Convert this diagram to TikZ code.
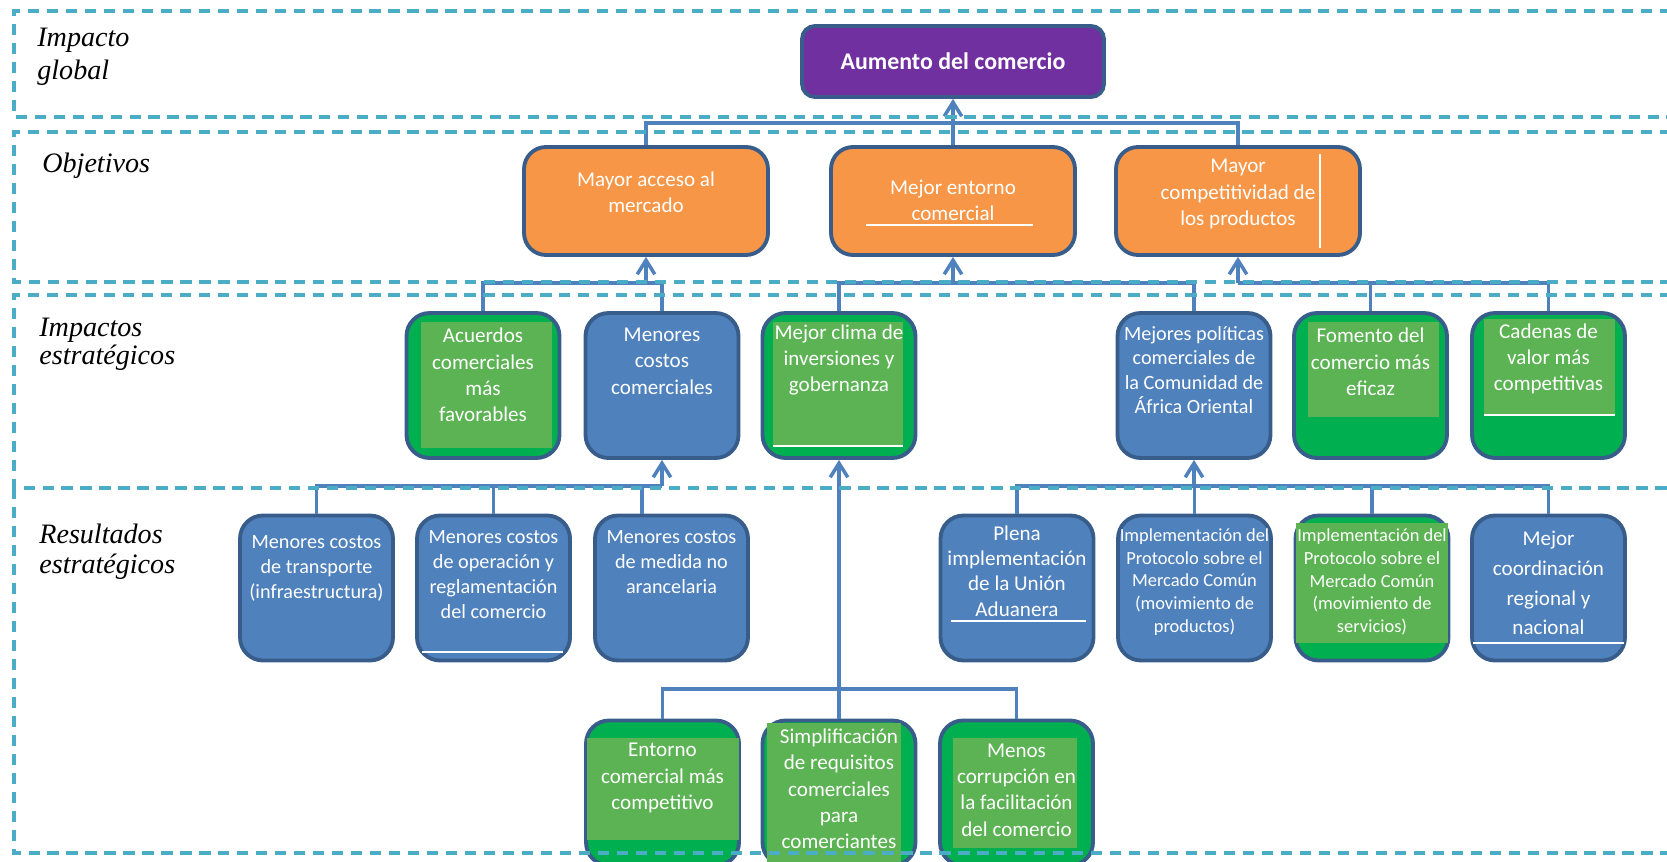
\documentclass[tikz,border=0pt]{standalone}
\usepackage{fontspec}
\setmainfont{Carlito}
\newfontfamily\bandfont{Liberation Serif}
\usetikzlibrary{arrows.meta,positioning}
\definecolor{ebBlue}{RGB}{79,129,189}
\definecolor{ebBorder}{RGB}{56,93,138}
\definecolor{ebGreen}{RGB}{0,176,80}
\definecolor{ebLeaf}{RGB}{91,179,83}
\definecolor{ebOrange}{RGB}{247,150,70}
\definecolor{ebPurple}{RGB}{112,48,160}
\definecolor{ebDash}{RGB}{75,172,198}
\definecolor{ebLink}{RGB}{79,129,189}

\begin{document}
\begin{tikzpicture}[x=0.02cm,y=-0.02cm,
  cardbox/.style={draw=ebBorder,line width=2.2pt,rounded corners=0.46cm,
    minimum width=3.06cm,minimum height=2.9cm,inner sep=0pt},
  bluecard/.style={cardbox,fill=ebBlue},
  greencard/.style={cardbox,fill=ebGreen},
  objcard/.style={cardbox,fill=ebOrange,minimum width=4.88cm,minimum height=2.16cm,rounded corners=0.44cm},
  goalcard/.style={cardbox,fill=ebPurple,minimum width=6.04cm,minimum height=1.42cm,rounded corners=0.26cm,
    text=white,font=\fontsize{13.6}{16}\selectfont\bfseries},
  cardtext/.style={text=white,align=center,inner sep=0pt,font=\fontsize{12}{15}\selectfont},
  leaf/.style={fill=ebLeaf},
  gap/.style={draw=white,line width=0.8pt},
  rowlabel/.style={anchor=west,align=left,inner sep=0pt,font=\bandfont\itshape\fontsize{16}{17}\selectfont},
  band/.style={draw=ebDash,line width=1.8pt,dash pattern=on 6.4pt off 4.4pt},
  link/.style={draw=ebLink,line width=2pt},
  uplink/.style={link,-{Straight Barb[length=8pt,width=10pt]}}
]
  \useasboundingbox (0,0) rectangle (1667,862);

  % row labels
  \node[rowlabel,font=\bandfont\itshape\fontsize{16}{18.5}\selectfont] (lblGlobal) at (37,57) {Impacto\\global};
  \node[rowlabel] (lblObj) at (42,166) {Objetivos};
  \node[rowlabel,font=\bandfont\itshape\fontsize{16}{16}\selectfont] (lblImp) at (39,344) {Impactos\\estratégicos};
  \node[rowlabel] (lblRes) at (39,552) {Resultados\\estratégicos};

  % impacto global
  \node[goalcard] (goal) at (953,61.5) {Aumento del comercio};

  % objetivos
  \node[objcard] (objA) at (646,201) {};
  \node[objcard] (objB) at (953,201) {};
  \node[objcard] (objC) at (1238,201) {};
  \node[cardtext] (objAt) at (646,192) {Mayor acceso al\\mercado};
  \node[cardtext] (objBt) at (953,200) {Mejor entorno\\comercial};
  \node[cardtext] (objCt) at (1238,194) {Mayor\\competitividad de\\los productos};
  \draw[gap] (866,225) -- (1033,225);
  \draw[gap] (1320,154) -- (1320,248);

  % impactos estrategicos
  \node[greencard] (acuerdos) at (483,385.5) {};
  \node[bluecard] (menCom) at (662,385.5) {};
  \node[greencard] (clima) at (839,385.5) {};
  \node[bluecard] (politicas) at (1194,385.5) {};
  \node[greencard] (fomento) at (1370.5,385.5) {};
  \node[greencard] (cadenas) at (1548.5,385.5) {};
  \fill[leaf] (421,322) rectangle (552,448);
  \fill[leaf] (773,322) rectangle (903,446);
  \fill[leaf] (1308,322) rectangle (1439,417);
  \fill[leaf] (1484,319) rectangle (1615,415);
  \draw[gap] (773,446) -- (903,446);
  \draw[gap] (1484,415) -- (1615,415);
  \node[cardtext] (acuerdosT) at (483,375) {Acuerdos\\comerciales\\más\\favorables};
  \node[cardtext] (menComT) at (662,361) {Menores\\costos\\comerciales};
  \node[cardtext] (climaT) at (839,360) {Mejor clima de\\inversiones y\\gobernanza};
  \node[cardtext,font=\fontsize{11.5}{14}\selectfont] (politicasT) at (1194,370)
    {Mejores políticas\\comerciales de\\la Comunidad de\\África Oriental};
  \node[cardtext] (fomentoT) at (1370.5,362) {Fomento del\\comercio más\\eficaz};
  \node[cardtext] (cadenasT) at (1548.5,359) {Cadenas de\\valor más\\competitivas};

  % resultados estrategicos
  \node[bluecard] (transporte) at (316.5,588) {};
  \node[bluecard] (operacion) at (493.5,588) {};
  \node[bluecard] (medida) at (671.5,588) {};
  \node[bluecard] (plena) at (1017,588) {};
  \node[bluecard] (productos) at (1194.5,588) {};
  \node[greencard] (servicios) at (1372,588) {};
  \node[bluecard] (coordinacion) at (1548.5,588) {};
  \fill[leaf] (1296,523) rectangle (1448,643);
  \draw[gap] (422,652) -- (563,652);
  \draw[gap] (951,621) -- (1086,621);
  \draw[gap] (1473,643) -- (1624,643);
  \node[cardtext,font=\fontsize{11.5}{14.2}\selectfont] (transporteT) at (316.5,568)
    {Menores costos\\de transporte\\(infraestructura)};
  \node[cardtext,font=\fontsize{11.5}{14.2}\selectfont] (operacionT) at (493.5,575)
    {Menores costos\\de operación y\\reglamentación\\del comercio};
  \node[cardtext,font=\fontsize{11.5}{14.2}\selectfont] (medidaT) at (671.5,562)
    {Menores costos\\de medida no\\arancelaria};
  \node[cardtext,font=\fontsize{12}{14.5}\selectfont] (plenaT) at (1017,571)
    {Plena\\implementación\\de la Unión\\Aduanera};
  \node[cardtext,font=\fontsize{10.5}{13}\selectfont] (productosT) at (1194.5,582)
    {Implementación del\\Protocolo sobre el\\Mercado Común\\(movimiento de\\productos)};
  \node[cardtext,font=\fontsize{10.5}{13}\selectfont] (serviciosT) at (1372,582)
    {Implementación del\\Protocolo sobre el\\Mercado Común\\(movimiento de\\servicios)};
  \node[cardtext,font=\fontsize{12}{17}\selectfont] (coordinacionT) at (1548.5,583)
    {Mejor\\coordinación\\regional y\\nacional};

  % resultados bajo el clima de inversiones
  \node[greencard] (entorno) at (662.5,793) {};
  \node[greencard] (simplif) at (839,793) {};
  \node[greencard] (corrupcion) at (1016.5,793) {};
  \fill[leaf] (587,738) rectangle (739,840);
  \fill[leaf] (767,723) rectangle (901,870);
  \fill[leaf] (953,738) rectangle (1077,848);
  \node[cardtext] (entornoT) at (662.5,778) {Entorno\\comercial más\\competitivo};
  \node[cardtext] (simplifT) at (839,789) {Simplificación\\de requisitos\\comerciales\\para\\comerciantes};
  \node[cardtext] (corrupcionT) at (1016.5,790) {Menos\\corrupción en\\la facilitación\\del comercio};

  % connectors
  \coordinate (jGoal) at (953,123);
  \draw[link] (objA.north) |- (jGoal) -| (objC.north);
  \draw[uplink] (objB.north) -- (goal.south);

  \coordinate (jA) at (646,283);
  \draw[link] (acuerdos.north) |- (jA) -| (menCom.north);
  \draw[uplink] (jA) -- (objA.south);

  \coordinate (jB) at (953,283);
  \draw[link] (clima.north) |- (jB) -| (politicas.north);
  \draw[uplink] (jB) -- (objB.south);

  \coordinate (jC) at (1238,283);
  \draw[link] (jC) -| (cadenas.north);
  \draw[link] (fomento.north) -- (fomento.north |- jC);
  \draw[uplink] (jC) -- (objC.south);

  \coordinate (jD) at (662,486);
  \draw[link] (transporte.north) |- (jD);
  \draw[link] (operacion.north) -- (operacion.north |- jD);
  \draw[link] ([xshift=-0.59cm]medida.north) -- ++(0,-27);
  \draw[uplink] (jD) -- (menCom.south);

  \coordinate (jE) at (1194,486);
  \draw[link] (plena.north) |- (jE) -| (coordinacion.north);
  \draw[link] (productos.north) -- (productos.north |- jE);
  \draw[link] (servicios.north) -- (servicios.north |- jE);
  \draw[uplink] (jE) -- (politicas.south);

  \coordinate (jF) at (839,689);
  \draw[link] (entorno.north) |- (jF) -| (corrupcion.north);
  \draw[link] (simplif.north) -- (jF);
  \draw[uplink] (jF) -- (clima.south);

  % bands
  \draw[band] (1690,11) -| (14,117) -- (1690,117);
  \draw[band] (1690,132) -| (14,282) -- (1690,282);
  \draw[band] (1690,295) -| (14,488) -- (1690,488);
  \draw[band] (14,488) -- (14,853) -- (1690,853);
\end{tikzpicture}
\end{document}
